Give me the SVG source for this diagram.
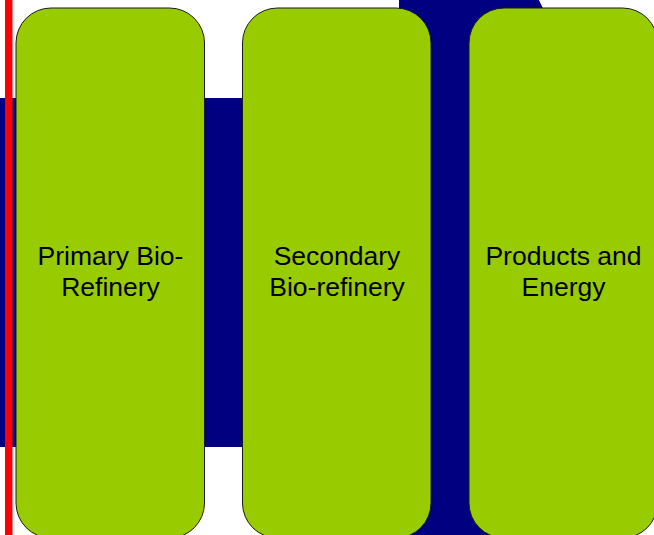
<svg xmlns="http://www.w3.org/2000/svg" width="654" height="535" viewBox="0 0 654 535">
  <style>
    .stage { fill: #99CC00; stroke: #1a1a1a; stroke-width: 1; }
    .label { font-family: "Liberation Sans", Arial, sans-serif; font-size: 26.5px; fill: #000000; text-anchor: middle; }
  </style>
  <rect x="0" y="0" width="654" height="535" fill="#FFFFFF"/>
  <!-- big process arrow behind the stages -->
  <g id="flow-arrow">
    <polygon fill="#000080" points="0,98 399,98 399,-280 675,272.5 399,825 399,447 0,447"/>
  </g>
  <!-- margin rule -->
  <rect x="5" y="0" width="7.5" height="535" fill="#FF0000"/>
  <g id="primary">
    <rect class="stage" x="16" y="8" width="188.5" height="530" rx="35" ry="35"/>
    <text class="label" x="110.5" y="265">Primary Bio-</text>
    <text class="label" x="110.5" y="296">Refinery</text>
  </g>
  <g id="secondary">
    <rect class="stage" x="242.5" y="8" width="188.5" height="530" rx="35" ry="35"/>
    <text class="label" x="337" y="265">Secondary</text>
    <text class="label" x="337" y="296">Bio-refinery</text>
  </g>
  <g id="products">
    <rect class="stage" x="469" y="8" width="188.5" height="530" rx="35" ry="35"/>
    <text class="label" x="563.5" y="265">Products and</text>
    <text class="label" x="563.5" y="296">Energy</text>
  </g>
</svg>
